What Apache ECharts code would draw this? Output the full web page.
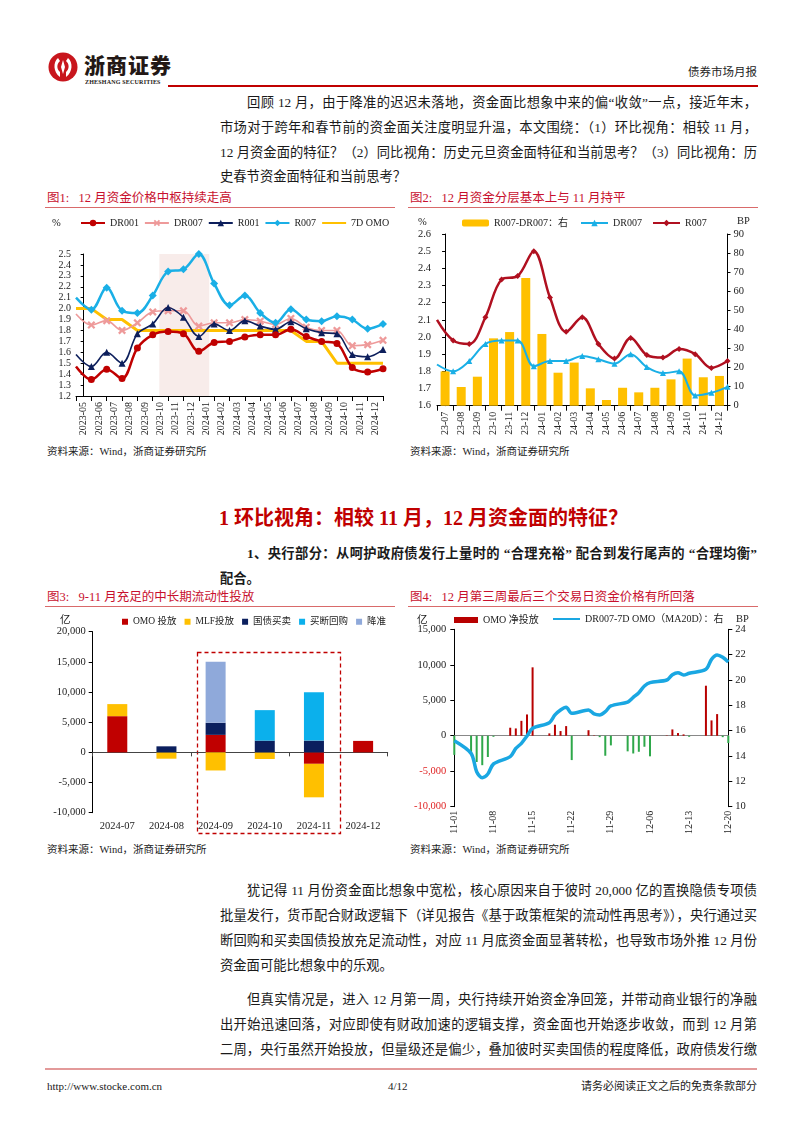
<!DOCTYPE html>
<html><head><meta charset="utf-8">
<script src="https://cdn.jsdelivr.net/npm/echarts@6/dist/echarts.min.js"></script>
<style>
html,body{margin:0;padding:0;background:#fff;}
body{width:802px;height:1133px;position:relative;overflow:hidden;font-family:'Liberation Serif','Noto Sans CJK SC',serif;color:#1a1a1a;}
.abs{position:absolute;}
.ln{position:absolute;left:220px;width:537px;font-size:13.3px;white-space:nowrap;text-align:justify;text-align-last:justify;line-height:18px;height:18px;}
.ind{left:247px;width:510px;}
.last{text-align-last:left;}
.ft{position:absolute;font-size:12.5px;color:#C8102E;line-height:16px;white-space:nowrap;}
.fu{position:absolute;height:1px;background:#D96A6A;}
.src{position:absolute;font-size:10.5px;color:#222;line-height:14px;white-space:nowrap;}
.chart{position:absolute;}
</style></head>
<body>
<svg class="abs" style="left:48px;top:52px" width="30" height="30" viewBox="0 0 30 30">
<circle cx="15" cy="15" r="14.5" fill="#C8161D"/>
<path d="M10 6 C5 10 5 20 12 25 L12 20 C8.5 17 8.5 12 12 9Z" fill="#fff"/>
<path d="M20 6 C25 10 25 20 18 25 L18 20 C21.5 17 21.5 12 18 9Z" fill="#fff"/>
<path d="M15 8 L17 15 L15 22 L13 15Z" fill="#fff"/>
</svg>
<div class="abs" style="left:84px;top:51px;font-family:'Noto Sans CJK SC';font-weight:900;font-size:21px;letter-spacing:1px;color:#231815;line-height:26px;">浙商证券</div>
<div class="abs" style="left:85px;top:79px;font-family:'Liberation Serif';font-weight:bold;font-size:6px;color:#231815;letter-spacing:0.2px;line-height:7px;">ZHESHANG SECURITIES</div>
<div class="abs" style="left:168px;top:85px;width:590px;height:2px;background:#C00000;"></div>
<div class="abs" style="right:45px;top:64px;font-size:11.5px;color:#222;line-height:16px;">债券市场月报</div>

<div class="ln ind" style="top:94px">回顾 12 月，由于降准的迟迟未落地，资金面比想象中来的偏“收敛”一点，接近年末，</div>
<div class="ln" style="top:119px">市场对于跨年和春节前的资金面关注度明显升温，本文围绕：（1）环比视角：相较 11 月，</div>
<div class="ln" style="top:144px">12 月资金面的特征？（2）同比视角：历史元旦资金面特征和当前思考？（3）同比视角：历</div>
<div class="ln last" style="top:168px">史春节资金面特征和当前思考？</div>

<div class="ft" style="left:47px;top:190px">图1:&nbsp;&nbsp;&nbsp;12 月资金价格中枢持续走高</div>
<div class="fu" style="left:45px;top:207px;width:350px"></div>
<div class="ft" style="left:410px;top:190px">图2:&nbsp;&nbsp;&nbsp;12 月资金分层基本上与 11 月持平</div>
<div class="fu" style="left:408px;top:207px;width:350px"></div>

<div id="c1" class="chart" style="left:40px;top:210px;width:360px;height:235px"></div>
<div id="c2" class="chart" style="left:405px;top:210px;width:360px;height:235px"></div>

<div class="src" style="left:47px;top:445px">资料来源：Wind，浙商证券研究所</div>
<div class="src" style="left:410px;top:445px">资料来源：Wind，浙商证券研究所</div>

<div class="abs" style="left:219px;top:505px;font-size:20px;font-weight:bold;color:#C00000;line-height:26px;white-space:nowrap;">1 环比视角：相较 11 月，12 月资金面的特征？</div>

<div class="ln ind" style="top:545px;font-weight:bold">1、央行部分：从呵护政府债发行上量时的 “合理充裕” 配合到发行尾声的 “合理均衡”</div>
<div class="ln last" style="top:570px;font-weight:bold">配合。</div>

<div class="ft" style="left:47px;top:589px">图3:&nbsp;&nbsp;&nbsp;9-11 月充足的中长期流动性投放</div>
<div class="fu" style="left:45px;top:606px;width:350px"></div>
<div class="ft" style="left:410px;top:589px">图4:&nbsp;&nbsp;&nbsp;12 月第三周最后三个交易日资金价格有所回落</div>
<div class="fu" style="left:408px;top:606px;width:350px"></div>

<div id="c3" class="chart" style="left:40px;top:610px;width:360px;height:230px"></div>
<div id="c4" class="chart" style="left:405px;top:610px;width:360px;height:230px"></div>

<div class="src" style="left:47px;top:843px">资料来源：Wind，浙商证券研究所</div>
<div class="src" style="left:410px;top:843px">资料来源：Wind，浙商证券研究所</div>

<div class="ln ind" style="top:882px">犹记得 11 月份资金面比想象中宽松，核心原因来自于彼时 20,000 亿的置换隐债专项债</div>
<div class="ln" style="top:907px">批量发行，货币配合财政逻辑下（详见报告《基于政策框架的流动性再思考》），央行通过买</div>
<div class="ln" style="top:932px">断回购和买卖国债投放充足流动性，对应 11 月底资金面显著转松，也导致市场外推 12 月份</div>
<div class="ln last" style="top:957px">资金面可能比想象中的乐观。</div>

<div class="ln ind" style="top:991px">但真实情况是，进入 12 月第一周，央行持续开始资金净回笼，并带动商业银行的净融</div>
<div class="ln" style="top:1016px">出开始迅速回落，对应即使有财政加速的逻辑支撑，资金面也开始逐步收敛，而到 12 月第</div>
<div class="ln" style="top:1041px">二周，央行虽然开始投放，但量级还是偏少，叠加彼时买卖国债的程度降低，政府债发行缴</div>

<div class="abs" style="left:45px;top:1068px;width:712px;height:2px;background:#E39A9A;"></div>
<div class="abs" style="left:47px;top:1079px;font-size:11px;line-height:14px;">http://www.stocke.com.cn</div>
<div class="abs" style="left:388px;top:1079px;font-size:11px;line-height:14px;">4/12</div>
<div class="abs" style="right:45px;top:1079px;font-size:11px;line-height:14px;">请务必阅读正文之后的免责条款部分</div>

<script>
const FONT = "'Liberation Serif','Noto Sans CJK SC',serif";

// ---------- Chart 1 data (first value = carry-in point at left edge of the axis) ----------
const c1Months = ['2023-05','2023-06','2023-07','2023-08','2023-09','2023-10','2023-11','2023-12','2024-01','2024-02','2024-03','2024-04','2024-05','2024-06','2024-07','2024-08','2024-09','2024-10','2024-11','2024-12'];
const c1DR001 = [1.47, 1.35, 1.445, 1.36, 1.64, 1.76, 1.79, 1.77, 1.61, 1.69, 1.70, 1.74, 1.76, 1.76, 1.81, 1.745, 1.70, 1.68, 1.46, 1.42, 1.45];
const c1DR007 = [1.95, 1.85, 1.89, 1.80, 1.87, 1.97, 1.98, 1.98, 1.84, 1.87, 1.87, 1.90, 1.885, 1.855, 1.91, 1.83, 1.80, 1.80, 1.66, 1.67, 1.71];
const c1R001  = [1.58, 1.47, 1.60, 1.50, 1.77, 1.86, 2.01, 1.92, 1.745, 1.86, 1.80, 1.89, 1.84, 1.81, 1.88, 1.815, 1.78, 1.77, 1.58, 1.56, 1.625];
const c1R007  = [2.10, 1.99, 2.19, 1.98, 1.96, 2.12, 2.34, 2.36, 2.50, 2.23, 2.03, 2.12, 1.96, 1.87, 1.995, 1.90, 1.885, 1.93, 1.90, 1.815, 1.86];
const c1OMO   = [2.0, 2.0, 1.9, 1.9, 1.8, 1.8, 1.8, 1.8, 1.8, 1.8, 1.8, 1.8, 1.8, 1.8, 1.8, 1.7, 1.7, 1.5, 1.5, 1.5, 1.5];
const c1Shade = [4.93, 8.18]; // shaded period 2023-10 .. 2024-01 (category index units)

// ---------- Chart 2 data ----------
const c2Months = ['23-07','23-08','23-09','23-10','23-11','23-12','24-01','24-02','24-03','24-04','24-05','24-06','24-07','24-08','24-09','24-10','24-11','24-12'];
const c2Spread = [18, 9.8, 15.2, 35.3, 38.6, 67, 37.6, 17.3, 22.6, 9.1, 3, 9.4, 7, 9.4, 13.8, 24.7, 14.9, 15.6];
const c2DR007 = [1.84, 1.80, 1.86, 1.96, 1.98, 1.98, 1.83, 1.86, 1.86, 1.89, 1.87, 1.845, 1.90, 1.825, 1.79, 1.80, 1.66, 1.675, 1.71];
const c2R007  = [2.10, 1.98, 1.96, 2.115, 2.335, 2.355, 2.50, 2.23, 2.03, 2.115, 1.96, 1.875, 1.995, 1.895, 1.88, 1.93, 1.90, 1.82, 1.86];

// ---------- Chart 3 data (亿) ----------
const c3Months = ['2024-07','2024-08','2024-09','2024-10','2024-11','2024-12'];
const c3OMO  = [6000, null, 2900, null, -1900, 1900];
const c3MLF  = [2000, -1050, -3000, -1100, -5550, null];
const c3GZ   = [null, 1000, 2000, 1950, 1950, null];
const c3MDHG = [null, null, null, 5050, 8000, null];
const c3JZ   = [null, null, 10100, null, null, null];

// ---------- Chart 4 data ----------
const c4Days = ['11-01','11-02','11-03','11-04','11-05','11-06','11-07','11-08','11-09','11-10',
  '11-11','11-12','11-13','11-14','11-15','11-16','11-17','11-18','11-19','11-20',
  '11-21','11-22','11-23','11-24','11-25','11-26','11-27','11-28','11-29','11-30',
  '12-01','12-02','12-03','12-04','12-05','12-06','12-07','12-08','12-09','12-10',
  '12-11','12-12','12-13','12-14','12-15','12-16','12-17','12-18','12-19','12-20'];
const c4OMO = [-2700, null, null, -2550, -3700, -4150, -3000, -150, null, null,
  1130, 1030, 2100, 3000, 9640, null, null, 330, 1550, 660,
  1360, -3430, null, null, 780, 50, -200, -2820, -1360, null,
  null, -2200, -2500, -2260, -1550, -2900, null, null, 50, 890,
  380, 190, -150, null, null, 7050, 2160, 3050, -200, -1030];
const c4Spread = [15.21, null, null, 14.21, 12.76, 12.29, 12.58, 13.37, null, null,
  13.95, 14.6, 15.0, 15.58, 16.19, null, null, 16.63, 17.24, 17.63,
  17.84, 17.37, null, null, 17.63, 17.32, 17.24, 17.5, 17.95, null,
  null, 18.26, 18.63, 19.0, 19.52, 19.79, null, null, 20.0, 20.42,
  20.58, 20.39, 20.53, null, null, 20.84, 21.63, 21.97, 21.79, 21.42];

const axisTxt = {color:'#222', fontFamily:FONT, fontSize:10};
const blackLine = {show:true, lineStyle:{color:'#000', width:1}};
const fmtThousands = v => (v<0?'-':'') + Math.abs(v).toString().replace(/\B(?=(\d{3})+(?!\d))/g, ',');
const xShape = 'path://M0 2L2 0L5 3L8 0L10 2L7 5L10 8L8 10L5 7L2 10L0 8L3 5Z';

const withEdge = arr => arr.map((v,i)=>[i-0.5, v]);
const edgeSymbol = (size) => (val, p) => (p.dataIndex===0 ? 0 : size);
const lt = {fontFamily:FONT, fontSize:10, color:'#222'};

// ================= Chart 1 =================
const ch1 = echarts.init(document.getElementById('c1'));
ch1.setOption({
  animation:false,
  grid:{left:36, top:44, width:307, height:142},
  legend:{left:40, top:8, padding:0, itemWidth:24, itemHeight:8, itemGap:5, textStyle:lt,
    data:['DR001','DR007','R001','R007',{name:'7D OMO', itemStyle:{opacity:0}}]},
  graphic:[{type:'text', left:12, top:8, style:{text:'%', font:"10.5px "+FONT, fill:'#222'}}],
  xAxis:[
    {type:'category', data:c1Months, boundaryGap:true, axisLine:blackLine, axisTick:{show:true, lineStyle:{color:'#000'}},
     axisLabel:Object.assign({rotate:90, interval:0, margin:6}, axisTxt)},
    {type:'value', min:-0.5, max:c1Months.length-0.5, show:false}
  ],
  yAxis:{type:'value', min:1.2, max:2.5, interval:0.1, splitLine:{show:false}, axisLine:blackLine,
    axisTick:{show:true, length:3, lineStyle:{color:'#000'}},
    axisLabel:Object.assign({formatter:v=>v.toFixed(1), margin:5}, axisTxt)},
  series:[
    {type:'line', xAxisIndex:1, data:[], silent:true,
      markArea:{silent:true, itemStyle:{color:'#F8ECEA'}, data:[[{xAxis:c1Shade[0]},{xAxis:c1Shade[1]}]]}},
    {name:'7D OMO', type:'line', xAxisIndex:1, data:withEdge(c1OMO), showSymbol:false, symbol:'none',
      lineStyle:{color:'#FFC000', width:3}, itemStyle:{color:'#FFC000'}, z:2},
    {name:'DR007', type:'line', xAxisIndex:1, data:withEdge(c1DR007), smooth:0.35, symbol:xShape, symbolSize:edgeSymbol(8),
      lineStyle:{color:'#EE9A9A', width:1.6}, itemStyle:{color:'#EE9A9A'}, z:3},
    {name:'R001', type:'line', xAxisIndex:1, data:withEdge(c1R001), smooth:0.35, symbol:'triangle', symbolSize:edgeSymbol(7),
      lineStyle:{color:'#0D1F5C', width:1.6}, itemStyle:{color:'#0D1F5C'}, z:4},
    {name:'DR001', type:'line', xAxisIndex:1, data:withEdge(c1DR001), smooth:0.35, symbol:'circle', symbolSize:edgeSymbol(7),
      lineStyle:{color:'#C00000', width:2.5}, itemStyle:{color:'#C00000'}, z:5},
    {name:'R007', type:'line', xAxisIndex:1, data:withEdge(c1R007), smooth:0.35, symbol:'diamond', symbolSize:edgeSymbol(8),
      lineStyle:{color:'#1AAFE6', width:2.5}, itemStyle:{color:'#1AAFE6'}, z:6}
  ]
});

// ================= Chart 2 =================
const ch2 = echarts.init(document.getElementById('c2'));
ch2.setOption({
  animation:false,
  grid:{left:32, top:24, width:290.5, height:171.7},
  legend:[
    {data:['R007-DR007：右'], left:57, top:8, padding:0, itemWidth:27, itemHeight:7, textStyle:lt},
    {data:['DR007'], left:175, top:8, padding:0, itemWidth:27, itemHeight:8, textStyle:lt},
    {data:['R007'], left:247, top:8, padding:0, itemWidth:27, itemHeight:8, textStyle:lt}
  ],
  graphic:[
    {type:'text', left:13, top:7, style:{text:'%', font:"10.5px "+FONT, fill:'#222'}},
    {type:'text', left:332, top:6, style:{text:'BP', font:"10.5px "+FONT, fill:'#222'}}
  ],
  xAxis:[
    {type:'category', data:c2Months, boundaryGap:true, axisLine:blackLine, axisTick:{show:true, lineStyle:{color:'#000'}},
     axisLabel:Object.assign({rotate:90, interval:0, margin:6}, axisTxt)},
    {type:'value', min:-0.5, max:c2Months.length-0.5, show:false}
  ],
  yAxis:[
    {type:'value', min:1.6, max:2.6, interval:0.1, splitLine:{show:false}, axisLine:blackLine,
     axisTick:{show:true, length:3, lineStyle:{color:'#000'}}, axisLabel:Object.assign({formatter:v=>v.toFixed(1), margin:6}, axisTxt, {fontSize:10.5})},
    {type:'value', min:0, max:90, interval:10, splitLine:{show:false}, axisLine:blackLine,
     axisTick:{show:true, length:3, lineStyle:{color:'#000'}}, axisLabel:Object.assign({margin:6}, axisTxt, {fontSize:10.5})}
  ],
  series:[
    {name:'R007-DR007：右', type:'bar', xAxisIndex:0, yAxisIndex:1, data:c2Spread, barWidth:9, itemStyle:{color:'#FFC000'}},
    {name:'DR007', type:'line', xAxisIndex:1, yAxisIndex:0, data:withEdge(c2DR007), smooth:0.35, symbol:'triangle', symbolSize:edgeSymbol(6),
      lineStyle:{color:'#1AAFE6', width:2}, itemStyle:{color:'#1AAFE6'}},
    {name:'R007', type:'line', xAxisIndex:1, yAxisIndex:0, data:withEdge(c2R007), smooth:0.35, symbol:'diamond', symbolSize:edgeSymbol(6),
      lineStyle:{color:'#B01020', width:2.5}, itemStyle:{color:'#B01020'}}
  ]
});

// ================= Chart 3 =================
const ch3 = echarts.init(document.getElementById('c3'));
ch3.setOption({
  animation:false,
  grid:{left:52.7, top:21.7, width:295, height:181},
  legend:{left:82, top:7, padding:0, itemWidth:6, itemHeight:6, itemGap:8, icon:'rect', textStyle:Object.assign({}, lt, {fontSize:9.5}),
    data:['OMO 投放','MLF投放','国债买卖','买断回购','降准']},
  graphic:[
    {type:'text', left:20, top:5, style:{text:'亿', font:"10.5px "+FONT, fill:'#222'}},
    {type:'rect', left:155, top:40, shape:{width:143, height:181}, style:{fill:'none', stroke:'#C00000', lineWidth:1.3, lineDash:[4,3]}}
  ],
  xAxis:[
    {type:'category', data:c3Months, axisLine:{show:false, onZero:false}, axisTick:{show:false},
      axisLabel:Object.assign({margin:8, interval:0}, axisTxt, {fontSize:10.5})},
    {type:'category', data:c3Months, position:'bottom', axisLine:{show:true, onZero:true, lineStyle:{color:'#444'}},
      axisTick:{show:true, length:4, lineStyle:{color:'#444'}}, axisLabel:{show:false}}
  ],
  yAxis:{type:'value', min:-10000, max:20000, interval:5000, splitLine:{show:false}, axisLine:blackLine,
    axisTick:{show:true, length:4, lineStyle:{color:'#000'}}, axisLabel:Object.assign({formatter:fmtThousands, margin:7}, axisTxt, {fontSize:10.5})},
  series:[
    {name:'OMO 投放', type:'bar', stack:'a', data:c3OMO, barWidth:20, itemStyle:{color:'#C00000'}},
    {name:'MLF投放', type:'bar', stack:'a', data:c3MLF, barWidth:20, itemStyle:{color:'#FFC000'}},
    {name:'国债买卖', type:'bar', stack:'a', data:c3GZ, barWidth:20, itemStyle:{color:'#0B1F5E'}},
    {name:'买断回购', type:'bar', stack:'a', data:c3MDHG, barWidth:20, itemStyle:{color:'#0BB0EC'}},
    {name:'降准', type:'bar', stack:'a', data:c3JZ, barWidth:20, itemStyle:{color:'#8FA9DA'}}
  ]
});

// ================= Chart 4 =================
const ch4 = echarts.init(document.getElementById('c4'));
ch4.setOption({
  animation:false,
  grid:{left:49.3, top:19.3, width:274, height:177.4},
  legend:[
    {data:[{name:'OMO 净投放', itemStyle:{color:'#B80000'}}], left:49, top:5, padding:0, itemWidth:24, itemHeight:6, icon:'rect', textStyle:lt},
    {data:[{name:'DR007-7D OMO（MA20D）：右', itemStyle:{opacity:0}}], left:147, top:4, padding:0, itemWidth:27, itemHeight:8, textStyle:lt}
  ],
  graphic:[
    {type:'text', left:12, top:5, style:{text:'亿', font:"10.5px "+FONT, fill:'#222'}},
    {type:'text', left:331, top:4, style:{text:'BP', font:"10.5px "+FONT, fill:'#222'}}
  ],
  xAxis:[
    {type:'category', data:c4Days, boundaryGap:false, axisLine:{show:false, onZero:false}, axisTick:{show:false},
      axisLabel:Object.assign({rotate:90, interval:6, margin:4}, axisTxt)},
    {type:'category', data:c4Days, boundaryGap:false, position:'bottom', axisLine:{show:true, onZero:true, onZeroAxisIndex:0, lineStyle:{color:'#888', width:1.2}},
      axisTick:{show:false}, axisLabel:{show:false}}
  ],
  yAxis:[
    {type:'value', min:-10000, max:15000, interval:5000, splitLine:{show:false}, axisLine:blackLine,
      axisTick:{show:true, length:4, lineStyle:{color:'#000'}},
      axisLabel:{fontFamily:FONT, fontSize:10.5, margin:8, color:'#222',
        formatter:v=> v<0 ? '{n|'+fmtThousands(v)+'}' : fmtThousands(v), rich:{n:{color:'#E02424', fontFamily:FONT, fontSize:10.5}}}},
    {type:'value', min:10, max:24, interval:2, splitLine:{show:false}, axisLine:blackLine,
      axisTick:{show:true, length:4, lineStyle:{color:'#000'}}, axisLabel:Object.assign({margin:7}, axisTxt, {fontSize:10.5})}
  ],
  series:[
    {name:'OMO 净投放', type:'bar', xAxisIndex:0, yAxisIndex:0, data:c4OMO, barWidth:2,
      itemStyle:{color:p=> (p.value>=0 ? '#B80000' : '#2EA84A')}},
    {name:'DR007-7D OMO（MA20D）：右', type:'line', xAxisIndex:0, yAxisIndex:1, data:c4Spread, connectNulls:true, smooth:0.3,
      showSymbol:false, symbol:'none', lineStyle:{color:'#1AA7E2', width:3.5}, itemStyle:{color:'#1AA7E2'}, z:5}
  ]
});
</script>
</body></html>
